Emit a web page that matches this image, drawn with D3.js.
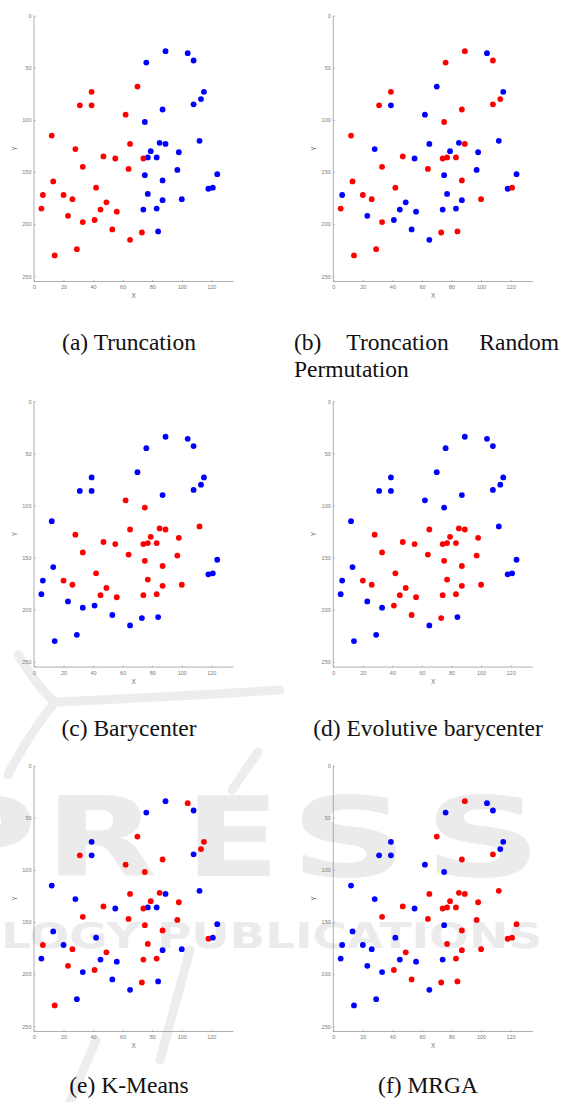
<!DOCTYPE html>
<html>
<head>
<meta charset="utf-8">
<script src="https://cdn.jsdelivr.net/npm/d3@7"></script>
<style>
  html, body { margin: 0; padding: 0; background: #fff; }
  svg { display: block; }
</style>
</head>
<body>
<svg id="chart" width="570" height="1102"></svg>
<script>
// ---- data ----
const pointX = [89,104,108,76,115,113,108,87,75,112,85,89,79,98,77,83,97,75,124,87,118,121,77,87,100,74,83,84,
                39,31,39,70,62,12,65,28,47,55,74,33,64,13,6,20,42,26,49,5,45,56,23,33,41,53,65,73,29,14];
const pointY = [34,36,43,45,73,80,85,90,102,120,122,123,130,131,136,136,148,153,152,158,166,165,171,177,176,186,185,207,
                73,86,86,68,95,115,123,128,135,137,137,145,147,159,172,172,165,176,179,185,186,188,192,198,196,205,215,208,224,230];
// cluster per point: 1 = blue, 2 = red
const clusterTruncation = [1,1,1,1,1,1,1,1,1,1,1,1,1,1,1,1,1,1,1,1,1,1,1,1,1,1,1,1,
                           2,2,2,2,2,2,2,2,2,2,2,2,2,2,2,2,2,2,2,2,2,2,2,2,2,2,2,2,2,2];
const clusterRandomPerm = [2,1,2,2,1,2,2,2,2,1, 1,2,1,1,2,2,1,1,1,2, 1,2,1,1,2,1,1,2,2,2,
                           1,1,1,2,1,1,2,1,2,2, 2,2,1,2,2,2,1,2,1,1, 1,2,1,1,1,2,2,2];
const clusterBarycenter = [1,1,1,1,1,1,1,1,2,2, 2,2,2,2,2,2,2,2,1,2, 1,1,2,2,2,2,2,1,1,1,
                           1,1,2,1,2,2,2,2,2,2, 2,1,1,2,2,2,2,1,2,2, 1,1,1,1,1,1,1,1];
const clusterEvolutive = [1,1,1,1,1,1,1,1,1,1, 2,2,2,2,2,2,2,2,1,2, 1,1,2,2,2,2,2,1,1,1,
                          1,1,1,1,2,2,2,2,2,2, 2,1,1,2,2,2,2,1,2,2, 1,1,2,2,1,2,1,1];
const clusterKMeans = [1,2,1,1,2,2,1,2,2,1, 2,1,2,2,1,1,2,2,1,2, 2,1,2,1,1,2,2,1,1,2,
                       1,2,2,1,2,1,2,1,2,2, 2,1,2,1,1,2,2,1,1,1, 2,1,2,1,1,2,1,2];
const clusterMRGA = [2,1,1,1,1,1,2,2,1,2, 2,2,2,2,2,2,2,1,2,2, 2,2,2,2,2,1,2,2,1,1,
                     1,2,1,1,2,1,2,1,2,2, 2,1,1,1,1,1,2,1,1,1, 1,1,2,2,1,2,1,1];
const xTicks = [0,20,40,60,80,100,120];
const yTicks = [0,50,100,150,200,250];
const captions = ["(a) Truncation", "(b) Troncation Random Permutation", "(c) Barycenter",
                  "(d) Evolutive barycenter", "(e) K-Means", "(f) MRGA"];
const clusterSets = [clusterTruncation, clusterRandomPerm, clusterBarycenter, clusterEvolutive, clusterKMeans, clusterMRGA];

// ---- layout ----
const svg = d3.select("#chart");
const colX = [34, 333.3];
const rowY = [15.7, 401.3, 765.7];
const capX = [129, 428];
const capBase = [350, 736, 1093];
const W = 199.5, H = 265.8;
const color = {1: "#0000ff", 2: "#ff0000"};
const axisCol = "#8c8c8c";

// ---- faint watermark (publisher logo behind the lower panels) ----
const wm = svg.append("g").attr("fill", "#ebebeb").attr("font-family", "'DejaVu Sans', sans-serif").attr("font-weight", "bold");
[["P",-75,112],["R",45,112],["E",185,95],["S",290,118],["S",424,118]].forEach(([ch, x0, w]) => {
  wm.append("text").attr("x", x0).attr("y", 876).attr("font-size", 110)
    .attr("textLength", w).attr("lengthAdjust", "spacingAndGlyphs").text(ch);
});
wm.append("text").attr("x", 1).attr("y", 948).attr("font-size", 35)
  .attr("textLength", 541).attr("lengthAdjust", "spacingAndGlyphs").text("LOGY PUBLICATIONS");
const wmStroke = svg.append("g").attr("fill", "none").attr("stroke", "#ededed").attr("stroke-width", 9).attr("stroke-linecap", "round");
wmStroke.append("path").attr("d", "M 18 655 Q 40 690 55 702 Q 150 698 280 690");
wmStroke.append("path").attr("d", "M 55 702 Q 25 740 8 775");
wmStroke.append("path").attr("d", "M 258 752 L 232 790");
wmStroke.append("path").attr("d", "M 190 950 L 160 1060");
wmStroke.append("path").attr("d", "M 96 1040 L 70 1102");

// ---- panels ----
const x = d3.scaleLinear().domain([0, 135]).range([0, W]);
const y = d3.scaleLinear().domain([0, 255]).range([0, H]);

clusterSets.forEach((cl, i) => {
  const col = i % 2, row = Math.floor(i / 2);
  const g = svg.append("g").attr("transform", `translate(${colX[col]},${rowY[row]})`);

  const ax = g.append("g").attr("transform", `translate(0,${H})`)
    .call(d3.axisBottom(x).tickValues(xTicks).tickSizeInner(-1.6).tickSizeOuter(0).tickPadding(4));
  const ay = g.append("g")
    .call(d3.axisLeft(y).tickValues(yTicks).tickSizeInner(-1.6).tickSizeOuter(0).tickPadding(2.5));
  [ax, ay].forEach(a => {
    a.select(".domain").attr("stroke", axisCol).attr("stroke-width", 0.7);
    a.selectAll(".tick line").attr("stroke", axisCol).attr("stroke-width", 0.6);
    a.selectAll(".tick text").attr("fill", "#7a7a7a").attr("font-size", "5.5px")
      .attr("font-family", "'Liberation Sans', Arial, sans-serif");
  });
  ax.select(".domain").attr("d", `M0,0H${W}`);
  ay.select(".domain").attr("d", `M0,0V${H}`);

  g.append("text").attr("x", W / 2).attr("y", H + 16.5).attr("text-anchor", "middle")
    .attr("font-size", "6.5px").attr("fill", "#6e6e6e").attr("font-family", "'Liberation Sans', Arial, sans-serif").text("X");
  g.append("text").attr("transform", `translate(${-17.3},${H / 2}) rotate(-90)`).attr("text-anchor", "middle")
    .attr("font-size", "6.5px").attr("fill", "#6e6e6e").attr("font-family", "'Liberation Sans', Arial, sans-serif").text("Y");

  const pts = pointX.map((v, k) => ({x: v, y: pointY[k], c: cl[k]}));
  g.append("g").selectAll("circle").data(pts).join("circle")
    .attr("cx", d => x(d.x)).attr("cy", d => y(d.y)).attr("r", 2.9)
    .attr("fill", d => color[d.c]);

  // caption
  const cap = svg.append("g").attr("font-family", "'Liberation Serif', 'Times New Roman', serif")
    .attr("font-size", "23.5px").attr("fill", "#111");
  if (i === 1) {
    cap.append("text").attr("x", 294).attr("y", capBase[row]).text("(b)");
    cap.append("text").attr("x", 397.5).attr("y", capBase[row]).attr("text-anchor", "middle").text("Troncation");
    cap.append("text").attr("x", 559).attr("y", capBase[row]).attr("text-anchor", "end").text("Random");
    cap.append("text").attr("x", 294).attr("y", capBase[row] + 27).text("Permutation");
  } else {
    cap.append("text").attr("x", capX[col]).attr("y", capBase[row]).attr("text-anchor", "middle").text(captions[i]);
  }
});
</script>
</body>
</html>
